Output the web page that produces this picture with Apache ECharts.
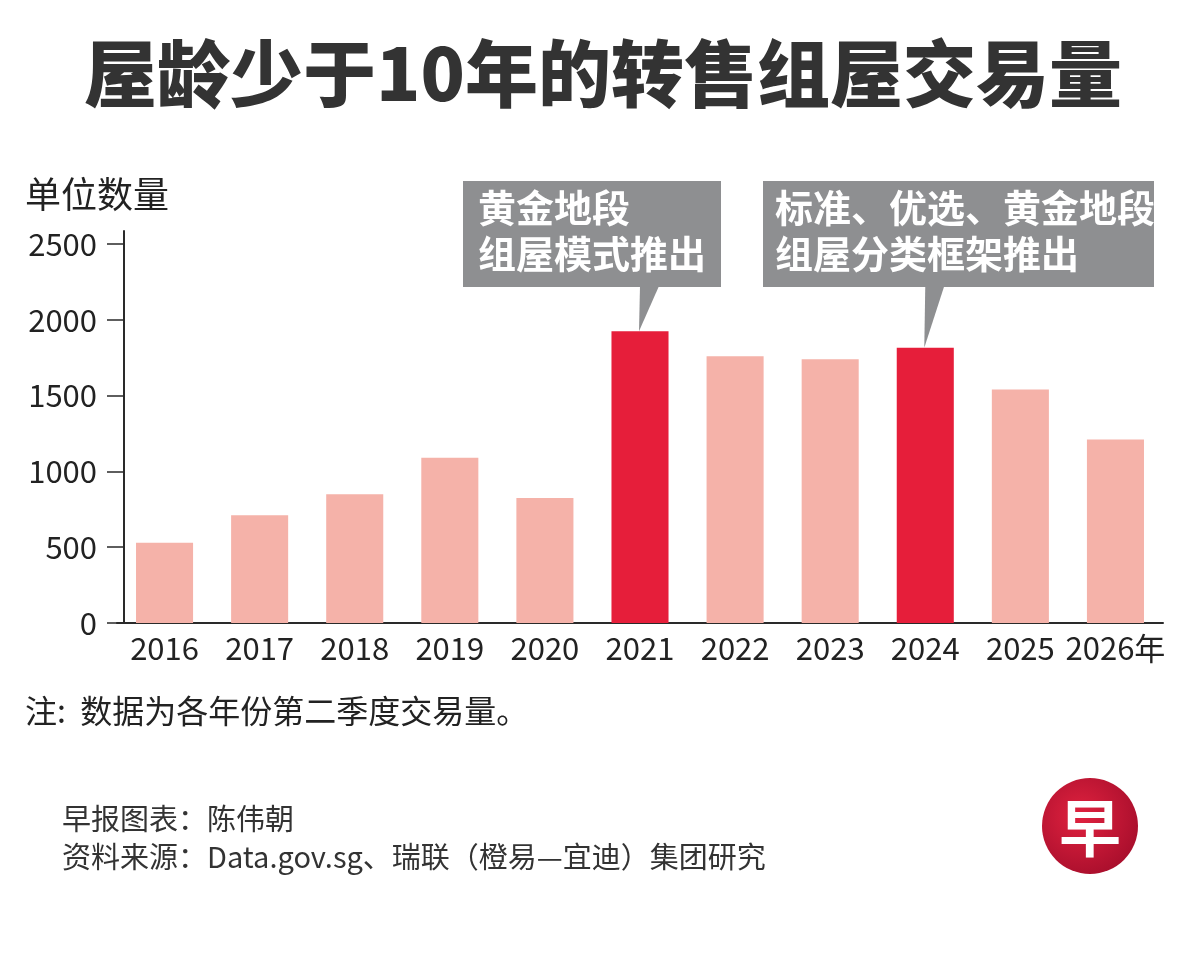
<!DOCTYPE html>
<html style="height: 100%">
<head>
    <meta charset="utf-8">
    <script src="https://cdn.jsdelivr.net/npm/echarts@6/dist/echarts.min.js"></script>
</head>
<body style="height: 100%; margin: 0; background: #fff">
<div id="container" style="width: 1200px; height: 960px"></div>
<script type="text/javascript">
    // 数据
    var years = ['2016', '2017', '2018', '2019', '2020', '2021', '2022', '2023', '2024', '2025', '2026年'];
    var units = [530, 710, 850, 1090, 825, 1925, 1760, 1740, 1815, 1540, 1210];
    var highlightYears = ['2021', '2024'];
    var yTicks = [0, 500, 1000, 1500, 2000, 2500];
    var callouts = [
        {year: '2021', lines: ['黄金地段', '组屋模式推出']},
        {year: '2024', lines: ['标准、优选、黄金地段', '组屋分类框架推出']}
    ];

    var cjkFont = '"Noto Sans CJK SC", sans-serif';

    var barData = years.map(function (y, i) {
        return {
            value: units[i],
            itemStyle: {color: highlightYears.indexOf(y) >= 0 ? '#e61e3a' : '#f5b2a9'}
        };
    });

    var dom = document.getElementById('container');
    var myChart = echarts.init(dom);

    var option = {
        animation: false,
        grid: {left: 117, right: 37, top: 231, bottom: 337},
        xAxis: {
            type: 'category',
            data: years,
            axisLine: {lineStyle: {color: '#2a2a2a', width: 2}},
            axisTick: {length: 34, lineStyle: {color: '#2a2a2a', width: 1.5}},
            axisLabel: {
                color: '#222',
                fontSize: 31,
                fontFamily: cjkFont,
                margin: 10,
                interval: 0
            }
        },
        yAxis: {
            type: 'value',
            min: 0,
            max: 2586,
            offset: -7,
            axisLine: {show: true, lineStyle: {color: '#2a2a2a', width: 2}},
            axisTick: {show: true, inside: false, length: 17, customValues: yTicks,
                lineStyle: {color: '#2a2a2a', width: 1.5}},
            axisLabel: {
                customValues: yTicks,
                formatter: function (v) { return String(v); },
                color: '#222',
                fontSize: 31,
                fontFamily: cjkFont,
                margin: 27
            },
            splitLine: {show: false}
        },
        series: [{
            type: 'bar',
            data: barData,
            barWidth: '60%'
        }],
        graphic: []
    };

    myChart.setOption(option);

    // 标题、注释与标注框
    var graphics = [
        {
            type: 'text', left: 84, top: 82 - 45,
            style: {text: '屋龄少于10年的转售组屋交易量', fontSize: 73, fontWeight: 900,
                fontFamily: cjkFont, fill: '#333'}
        },
        {
            type: 'text', left: 25, top: 198 - 22,
            style: {text: '单位数量', fontSize: 36, fontFamily: cjkFont, fill: '#222'}
        },
        {
            type: 'text', left: 25, top: 714 - 19,
            style: {text: '注:  数据为各年份第二季度交易量。', fontSize: 32, fontFamily: cjkFont, fill: '#222'}
        },
        {
            type: 'text', left: 62, top: 821 - 17,
            style: {text: '早报图表：陈伟朝', fontSize: 29, fontFamily: cjkFont, fill: '#333'}
        },
        {
            type: 'text', left: 62, top: 859 - 17,
            style: {text: '资料来源：Data.gov.sg、瑞联（橙易—宜迪）集团研究', fontSize: 29,
                fontFamily: cjkFont, fill: '#333'}
        },
        {
            type: 'circle',
            shape: {cx: 1090, cy: 826, r: 48},
            style: {
                fill: new echarts.graphic.RadialGradient(0.4, 0.4, 0.7, [
                    {offset: 0, color: '#e0223f'},
                    {offset: 1, color: '#a50d2b'}
                ])
            }
        },
        {
            type: 'text', x: 1090, y: 828,
            style: {text: '早', fontSize: 62, fontWeight: 'bold', fontFamily: cjkFont,
                fill: '#fff', align: 'center', verticalAlign: 'middle'}
        }
    ];

    var boxes = [
        {x: 463, width: 258, pad: 15},
        {x: 763, width: 391, pad: 12}
    ];
    var boxTop = 181, boxBottom = 287;

    callouts.forEach(function (c, k) {
        var idx = years.indexOf(c.year);
        var tip = myChart.convertToPixel({seriesIndex: 0}, [idx, units[idx]]);
        var b = boxes[k];
        graphics.push({
            type: 'rect',
            shape: {x: b.x, y: boxTop, width: b.width, height: boxBottom - boxTop},
            style: {fill: '#8e8f91'}
        });
        graphics.push({
            type: 'polygon',
            shape: {points: [[tip[0], boxBottom - 1], [tip[0] + 19, boxBottom - 1], [tip[0] - 1, tip[1]]]},
            style: {fill: '#8e8f91'}
        });
        c.lines.forEach(function (line, j) {
            graphics.push({
                type: 'text', left: b.x + b.pad, top: 212 + j * 46 - 23,
                style: {text: line, fontSize: 38, fontWeight: 'bold', fontFamily: cjkFont, fill: '#fff'}
            });
        });
    });

    myChart.setOption({graphic: graphics});
</script>
</body>
</html>
